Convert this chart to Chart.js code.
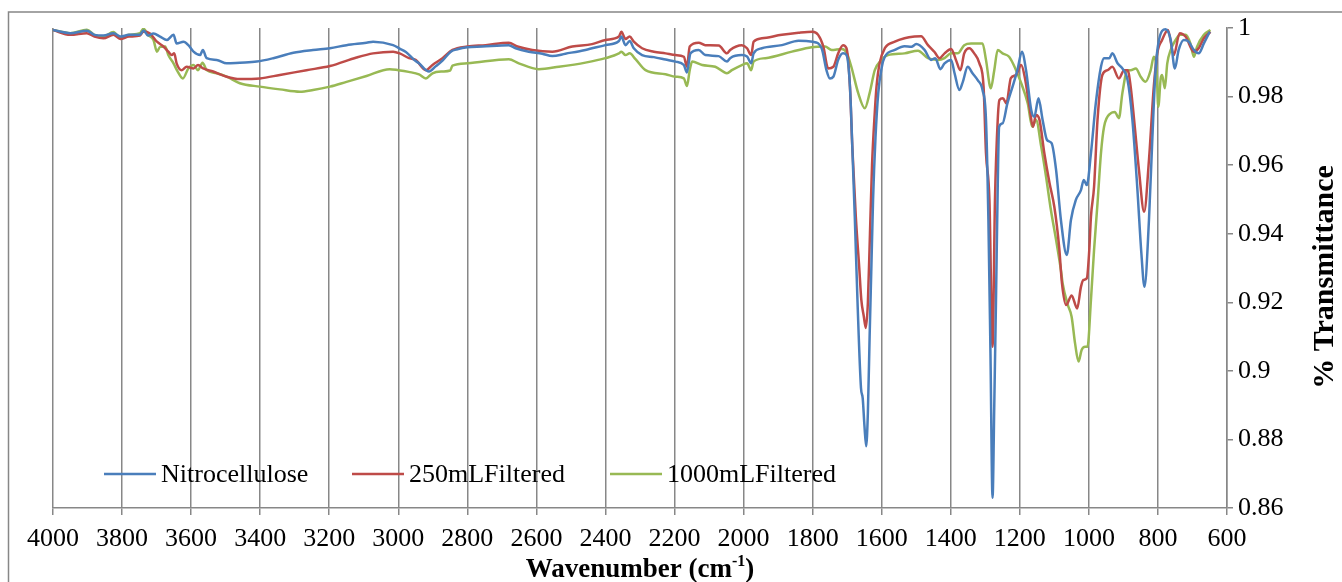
<!DOCTYPE html>
<html>
<head>
<meta charset="utf-8">
<script src="https://cdn.jsdelivr.net/npm/chart.js@4/dist/chart.umd.min.js"></script>
<style>
  html, body { margin: 0; padding: 0; background: #fff; }
  #wrap { width: 1342px; height: 582px; position: relative; }
</style>
</head>
<body>
<div id="wrap"><canvas id="ftir"></canvas></div>
<script>
// Wavenumber (cm-1) and transmittance
const nitroWn = [4000,3950,3902,3880,3854,3825,3805,3780,3748,3738,3725,3709,3690,3670,3651,3642,3622,3608,3593,3574,3566,3555,3526,3497,3459,3410,3362,3304,3247,3198,3150,3092,3073,3015,2996,2978,2954,2940,2911,2892,2872,2848,2829,2800,2757,2680,2660,2622,2583,2554,2516,2458,2400,2361,2354,2342,2330,2318,2294,2260,2226,2197,2173,2164,2154,2130,2111,2072,2048,2039,2005,1990,1978,1971,1947,1889,1841,1800,1774,1760,1750,1740,1726,1712,1702,1692,1685,1678,1670,1660,1655,1650,1645,1640,1635,1630,1625,1618,1610,1600,1591,1562,1534,1514,1500,1476,1457,1445,1430,1418,1399,1389,1375,1365,1351,1337,1322,1308,1298,1291,1285,1279,1274,1269,1264,1260,1250,1236,1221,1207,1194,1182,1167,1158,1146,1134,1121,1108,1095,1081,1064,1052,1038,1023,1015,1006,994,980,965,956,941,932,917,903,888,874,860,848,839,826,816,807,797,778,763,751,740,725,711,696,682,667,650];
const nitroT = [0.9994,0.9985,0.9992,0.998,0.9978,0.9985,0.9975,0.998,0.998,0.9993,0.9978,0.9984,0.9975,0.9965,0.998,0.9955,0.996,0.995,0.9931,0.9921,0.9936,0.9912,0.9907,0.9897,0.9899,0.9902,0.9912,0.9928,0.9936,0.9941,0.995,0.9957,0.996,0.995,0.994,0.993,0.9907,0.9897,0.9873,0.9888,0.9905,0.9931,0.9938,0.9944,0.9946,0.995,0.9941,0.9931,0.9925,0.9918,0.9925,0.9936,0.995,0.9962,0.9975,0.995,0.9962,0.9941,0.9921,0.9915,0.9908,0.9902,0.9892,0.987,0.9926,0.9936,0.9921,0.9918,0.9902,0.9912,0.9921,0.9917,0.9897,0.9926,0.9941,0.995,0.9963,0.996,0.9941,0.9877,0.9853,0.9858,0.9907,0.9926,0.9921,0.983,0.965,0.945,0.92,0.895,0.892,0.884,0.878,0.888,0.91,0.93,0.95,0.968,0.981,0.9885,0.9916,0.9936,0.9947,0.9945,0.9953,0.9936,0.9907,0.9912,0.988,0.9897,0.9907,0.9868,0.9819,0.9843,0.9887,0.9868,0.9848,0.9819,0.9732,0.944,0.905,0.863,0.89,0.9207,0.9537,0.9712,0.9722,0.978,0.9829,0.9877,0.9931,0.9877,0.9761,0.9741,0.9795,0.9732,0.9673,0.9664,0.9586,0.944,0.9338,0.944,0.9498,0.9527,0.9557,0.9542,0.9635,0.978,0.9887,0.9912,0.9912,0.9926,0.9897,0.9882,0.9848,0.9732,0.9537,0.9343,0.9245,0.944,0.9683,0.9877,0.9965,0.9996,0.9965,0.9882,0.9936,0.9965,0.996,0.9936,0.9926,0.9955,0.9989];

const filt250Wn = [4000,3950,3902,3880,3854,3825,3805,3780,3748,3738,3719,3699,3680,3666,3656,3649,3642,3627,3613,3593,3580,3565,3536,3497,3459,3401,3343,3266,3198,3121,3073,3015,2996,2969,2950,2920,2901,2872,2843,2800,2747,2680,2655,2612,2554,2496,2439,2400,2361,2354,2342,2330,2318,2294,2260,2226,2197,2173,2164,2156,2130,2111,2072,2048,2039,2005,1990,1978,1971,1947,1889,1841,1800,1784,1769,1755,1740,1726,1712,1702,1692,1685,1675,1665,1659,1652,1646,1640,1634,1628,1620,1615,1606,1591,1562,1534,1505,1486,1466,1447,1433,1418,1399,1385,1372,1361,1346,1332,1317,1305,1298,1288,1279,1272,1264,1259,1249,1239,1226,1211,1196,1185,1172,1162,1153,1143,1129,1114,1100,1086,1078,1066,1050,1034,1023,1016,1006,999,994,985,975,961,946,932,913,898,888,879,869,855,840,826,812,802,788,771,754,737,720,696,682,667,648];
const filt250T = [0.9994,0.998,0.9985,0.9975,0.997,0.998,0.9968,0.9975,0.9978,0.999,0.9984,0.996,0.9946,0.9931,0.9921,0.9926,0.9897,0.9877,0.9887,0.9882,0.9892,0.9882,0.9873,0.9858,0.9851,0.9853,0.9863,0.9877,0.9889,0.9914,0.9926,0.9931,0.9926,0.9912,0.9907,0.9877,0.9892,0.9912,0.9936,0.9946,0.995,0.9957,0.9946,0.9936,0.9931,0.9946,0.9953,0.9965,0.9975,0.9989,0.9968,0.9975,0.996,0.9941,0.9931,0.9926,0.9921,0.9916,0.9887,0.9946,0.9957,0.995,0.9949,0.9926,0.9936,0.995,0.9941,0.9921,0.996,0.997,0.998,0.9986,0.9989,0.998,0.9946,0.9882,0.9887,0.9926,0.995,0.9941,0.9829,0.965,0.945,0.93,0.9207,0.916,0.9125,0.92,0.94,0.96,0.9755,0.9829,0.9897,0.9941,0.996,0.997,0.9975,0.9976,0.995,0.993,0.9912,0.9926,0.9939,0.9907,0.9877,0.9926,0.9941,0.9926,0.9897,0.9829,0.9635,0.9498,0.907,0.9498,0.9732,0.979,0.9795,0.978,0.9854,0.9863,0.9892,0.9853,0.977,0.9712,0.9746,0.9732,0.9635,0.9548,0.9478,0.936,0.9256,0.9192,0.922,0.9182,0.9245,0.9265,0.927,0.935,0.945,0.9537,0.9732,0.9863,0.9877,0.9887,0.9853,0.9877,0.9877,0.9829,0.9732,0.9586,0.9464,0.9615,0.9829,0.9926,0.9965,0.9994,0.9921,0.9985,0.9975,0.9931,0.9941,0.997,0.9989];

const filt1000Wn = [4000,3950,3902,3880,3854,3825,3805,3780,3748,3738,3725,3709,3699,3690,3675,3666,3651,3640,3624,3608,3593,3580,3567,3555,3526,3497,3459,3401,3343,3285,3247,3198,3150,3092,3025,3000,2970,2940,2920,2901,2872,2850,2843,2800,2680,2651,2593,2535,2458,2400,2361,2354,2342,2330,2313,2284,2226,2197,2173,2164,2156,2149,2120,2082,2048,2034,2005,1990,1978,1971,1937,1860,1803,1764,1745,1716,1702,1688,1668,1649,1635,1620,1601,1582,1534,1495,1466,1437,1418,1399,1380,1361,1341,1308,1298,1284,1274,1264,1250,1231,1211,1196,1177,1164,1153,1138,1124,1110,1095,1081,1076,1061,1050,1040,1030,1021,1011,1004,994,985,975,965,956,937,925,913,903,888,879,864,850,836,821,812,804,799,792,788,780,773,763,749,735,720,706,696,687,667,648];
const filt1000T = [0.9994,0.9985,0.9995,0.998,0.9975,0.9988,0.997,0.998,0.9985,0.9998,0.998,0.9965,0.9931,0.9945,0.9946,0.9921,0.9897,0.9875,0.9853,0.9882,0.9892,0.9877,0.9899,0.9877,0.9868,0.9858,0.9839,0.9829,0.9821,0.9814,0.9819,0.9829,0.9843,0.986,0.988,0.9877,0.9872,0.9865,0.9853,0.9868,0.9873,0.9876,0.989,0.9897,0.9909,0.9897,0.988,0.9887,0.9899,0.9912,0.9926,0.9931,0.9921,0.9926,0.9909,0.9877,0.9865,0.9858,0.9853,0.9831,0.9877,0.9902,0.9892,0.9887,0.9868,0.9877,0.9892,0.9897,0.9877,0.9902,0.9912,0.9931,0.9944,0.9946,0.9936,0.9939,0.9929,0.9887,0.981,0.9766,0.981,0.9877,0.9907,0.9921,0.9926,0.9934,0.9912,0.9907,0.9912,0.9926,0.9926,0.995,0.9955,0.9955,0.9907,0.9824,0.9877,0.9936,0.9926,0.9916,0.9877,0.9839,0.978,0.9712,0.9732,0.9654,0.9566,0.9469,0.9382,0.9294,0.9255,0.9192,0.9158,0.908,0.9027,0.9061,0.907,0.907,0.9207,0.9353,0.9489,0.9635,0.9712,0.9751,0.9755,0.9737,0.981,0.9877,0.9877,0.9882,0.9858,0.9843,0.9877,0.9916,0.9877,0.977,0.9853,0.9863,0.9824,0.9897,0.9936,0.9965,0.998,0.998,0.9955,0.9916,0.9945,0.998,0.9994];

const seriesLabels = ['Nitrocellulose', '250mLFiltered', '1000mLFiltered'];
const seriesColors = ['#4A7EBB', '#BE4B48', '#98B954'];
const xTicks = { min: 600, max: 4000, step: 200 };
const yTicks = { min: 0.86, max: 1, step: 0.02 };

const FONT = "'Liberation Serif', 'Times New Roman', serif";
const GRID = '#878787';

function toPoints(wn, t) {
    return wn.map((w, i) => ({ x: w, y: t[i] }));
}

// outer frame, axis titles and the in-plot legend
const decorations = {
    id: 'decorations',
    beforeDraw(chart) {
        const ctx = chart.ctx;
        ctx.save();
        ctx.strokeStyle = GRID;
        ctx.lineWidth = 1.5;
        ctx.strokeRect(8.5, 12, 1400, 700);
        ctx.restore();
    },
    afterDraw(chart) {
        const ctx = chart.ctx;
        const area = chart.chartArea;
        ctx.save();
        ctx.fillStyle = '#000';

        // x title with superscript
        const big = 'bold 27px ' + FONT;
        const small = 'bold 16px ' + FONT;
        ctx.font = big;
        const partA = 'Wavenumber (cm';
        const partC = ')';
        const wA = ctx.measureText(partA).width;
        const wC = ctx.measureText(partC).width;
        ctx.font = small;
        const partB = '-1';
        const wB = ctx.measureText(partB).width;
        let x0 = (area.left + area.right) / 2 - (wA + wB + wC) / 2;
        const base = 577;
        ctx.textBaseline = 'alphabetic';
        ctx.textAlign = 'left';
        ctx.font = big;
        ctx.fillText(partA, x0, base);
        ctx.font = small;
        ctx.fillText(partB, x0 + wA, base - 11);
        ctx.font = big;
        ctx.fillText(partC, x0 + wA + wB, base);

        // y title, reading bottom to top
        ctx.translate(1325, (area.top + area.bottom) / 2 + 9);
        ctx.rotate(-Math.PI / 2);
        ctx.textAlign = 'center';
        ctx.textBaseline = 'middle';
        ctx.font = 'bold 30px ' + FONT;
        ctx.fillText('% Transmittance', 0, 0);
        ctx.setTransform(1, 0, 0, 1, 0, 0);

        // legend
        const legendY = 474;
        const starts = [104, 352, 610];
        ctx.font = '26px ' + FONT;
        ctx.textAlign = 'left';
        ctx.textBaseline = 'middle';
        chart.data.datasets.forEach((ds, i) => {
            ctx.strokeStyle = ds.borderColor;
            ctx.lineWidth = 2.5;
            ctx.beginPath();
            ctx.moveTo(starts[i], legendY);
            ctx.lineTo(starts[i] + 52, legendY);
            ctx.stroke();
            ctx.fillText(ds.label, starts[i] + 57, legendY + 1);
        });
        ctx.restore();
    }
};

const canvas = document.getElementById('ftir');
canvas.width = 1342;
canvas.height = 582;

new Chart(canvas.getContext('2d'), {
    type: 'line',
    data: {
        datasets: [
            { label: seriesLabels[0], data: toPoints(nitroWn, nitroT), borderColor: seriesColors[0] },
            { label: seriesLabels[1], data: toPoints(filt250Wn, filt250T), borderColor: seriesColors[1] },
            { label: seriesLabels[2], data: toPoints(filt1000Wn, filt1000T), borderColor: seriesColors[2] }
        ]
    },
    options: {
        responsive: false,
        animation: false,
        devicePixelRatio: 1,
        layout: { padding: { top: 28, left: 53, right: 0, bottom: 0 } },
        elements: {
            line: { borderWidth: 2.5, cubicInterpolationMode: 'monotone', fill: false },
            point: { radius: 0 }
        },
        plugins: {
            legend: { display: false },
            tooltip: { enabled: false }
        },
        scales: {
            x: {
                type: 'linear',
                reverse: true,
                min: xTicks.min,
                max: xTicks.max,
                afterFit: s => { s.height = 74; },
                afterBuildTicks: s => {
                    const t = [];
                    for (let v = xTicks.min; v <= xTicks.max; v += xTicks.step) t.push({ value: v });
                    s.ticks = t;
                },
                ticks: {
                    color: '#000',
                    font: { family: FONT, size: 26 },
                    padding: 9,
                    maxRotation: 0,
                    autoSkip: false,
                    callback: v => String(v)
                },
                grid: { color: GRID, lineWidth: 1.5, tickLength: 7, drawOnChartArea: true },
                border: { display: true, color: GRID, width: 1.5 }
            },
            y: {
                position: 'right',
                min: yTicks.min,
                max: yTicks.max,
                afterFit: s => { s.width = 115; },
                afterBuildTicks: s => {
                    const t = [];
                    for (let v = yTicks.min; v <= yTicks.max + 1e-9; v += yTicks.step) t.push({ value: Math.round(v * 100) / 100 });
                    s.ticks = t;
                },
                ticks: {
                    color: '#000',
                    font: { family: FONT, size: 26 },
                    padding: 5,
                    callback: v => String(Math.round(v * 100) / 100)
                },
                grid: { drawOnChartArea: false, drawTicks: true, tickLength: 6, color: GRID, lineWidth: 1.5 },
                border: { display: true, color: GRID, width: 1.5 }
            }
        }
    },
    plugins: [decorations]
});
</script>
</body>
</html>
